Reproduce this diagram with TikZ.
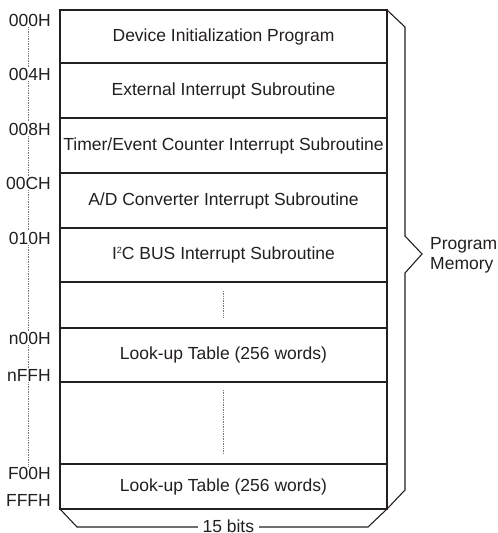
\documentclass[tikz,border=0pt]{standalone}
\usepackage{fontspec}
\setmainfont{Liberation Sans}
\usetikzlibrary{positioning}
\definecolor{inkgray}{RGB}{35,31,32}
\definecolor{dotgray}{RGB}{120,120,120}
\newcommand{\supsmall}[1]{\raisebox{6pt}{\fontsize{9}{9}\selectfont #1}}

\begin{document}
\begin{tikzpicture}[
    x=1pt, y=-1pt,
    every node/.style={font=\fontsize{17.5}{20}\selectfont, text=inkgray},
    memrow/.style={rectangle, draw=inkgray, line width=1.1pt, minimum width=327pt, outer sep=0pt, inner sep=0pt},
    addr/.style={anchor=east, inner sep=1pt},
    addrline/.style={dotgray, line width=0.8pt, dash pattern=on 0.8pt off 0.9pt},
    gapline/.style={dotgray, line width=0.8pt, dash pattern=on 0.8pt off 0.9pt},
    bracket/.style={draw=inkgray, line width=1.1pt, line join=miter}
]
\useasboundingbox (0,0) rectangle (498,533);

% Memory rows
\node[memrow, minimum height=53pt] (devinit) at (223.5,36.5) {Device Initialization Program};
\node[memrow, minimum height=55pt, below=0pt of devinit] (extint) {External Interrupt Subroutine};
\node[memrow, minimum height=55pt, below=0pt of extint] (timerint) {Timer/Event Counter Interrupt Subroutine};
\node[memrow, minimum height=55pt, below=0pt of timerint] (adcint) {A/D Converter Interrupt Subroutine};
\node[memrow, minimum height=54pt, below=0pt of adcint] (iicint) {I\supsmall{2}C BUS Interrupt Subroutine};
\node[memrow, minimum height=46pt, below=0pt of iicint] (gapone) {};
\node[memrow, minimum height=54pt, below=0pt of gapone] (lookupn) {Look-up Table (256 words)};
\node[memrow, minimum height=82pt, below=0pt of lookupn] (gaptwo) {};
\node[memrow, minimum height=45pt, below=0pt of gaptwo] (lookupf) {Look-up Table (256 words)};

% Gaps
\draw[gapline] ([yshift=-9pt]gapone.north) -- ([yshift=11pt]gapone.south);
\draw[gapline] ([yshift=-8pt]gaptwo.north) -- ([yshift=10pt]gaptwo.south);

% Addresses
\coordinate (addrx) at (28,0);
\node[addr] (addr000) at (52,20) {000H};
\node[addr] (addr004) at (52,74) {004H};
\node[addr] (addr008) at (52,129) {008H};
\node[addr] (addr00c) at (52,183) {00CH};
\node[addr] (addr010) at (52,238) {010H};
\node[addr] (addrn00) at (52,338) {n00H};
\node[addr] (addrnff) at (52,375) {nFFH};
\node[addr] (addrf00) at (52,473) {F00H};
\node[addr] (addrfff) at (52,500) {FFFH};

\draw[addrline] (addr000.south -| addrx) -- (addr004.north -| addrx);
\draw[addrline] (addr004.south -| addrx) -- (addr008.north -| addrx);
\draw[addrline] (addr008.south -| addrx) -- (addr00c.north -| addrx);
\draw[addrline] (addr00c.south -| addrx) -- (addr010.north -| addrx);
\draw[addrline] (addr010.south -| addrx) -- (addrn00.north -| addrx);
\draw[addrline] (addrn00.south -| addrx) -- (addrnff.north -| addrx);
\draw[addrline] (addrnff.south -| addrx) -- (addrf00.north -| addrx);

% Program memory brace
\draw[bracket] (devinit.north east) -- ++(18,17) -- ++(0,209) -- ++(17,18) -- ++(-17,19) -- ++(0,217) -- (lookupf.south east);
\node[anchor=west, align=left, inner sep=0pt] (progmem) at (430,255) {Program\\Memory};

% Width brace
\draw[bracket] (lookupf.south west) -- ++(17,18) -- node[pos=0.52, fill=white, inner xsep=5pt, inner ysep=0pt, yshift=1pt] (width) {15 bits} ++(291,0) -- (lookupf.south east);

\end{tikzpicture}
\end{document}
